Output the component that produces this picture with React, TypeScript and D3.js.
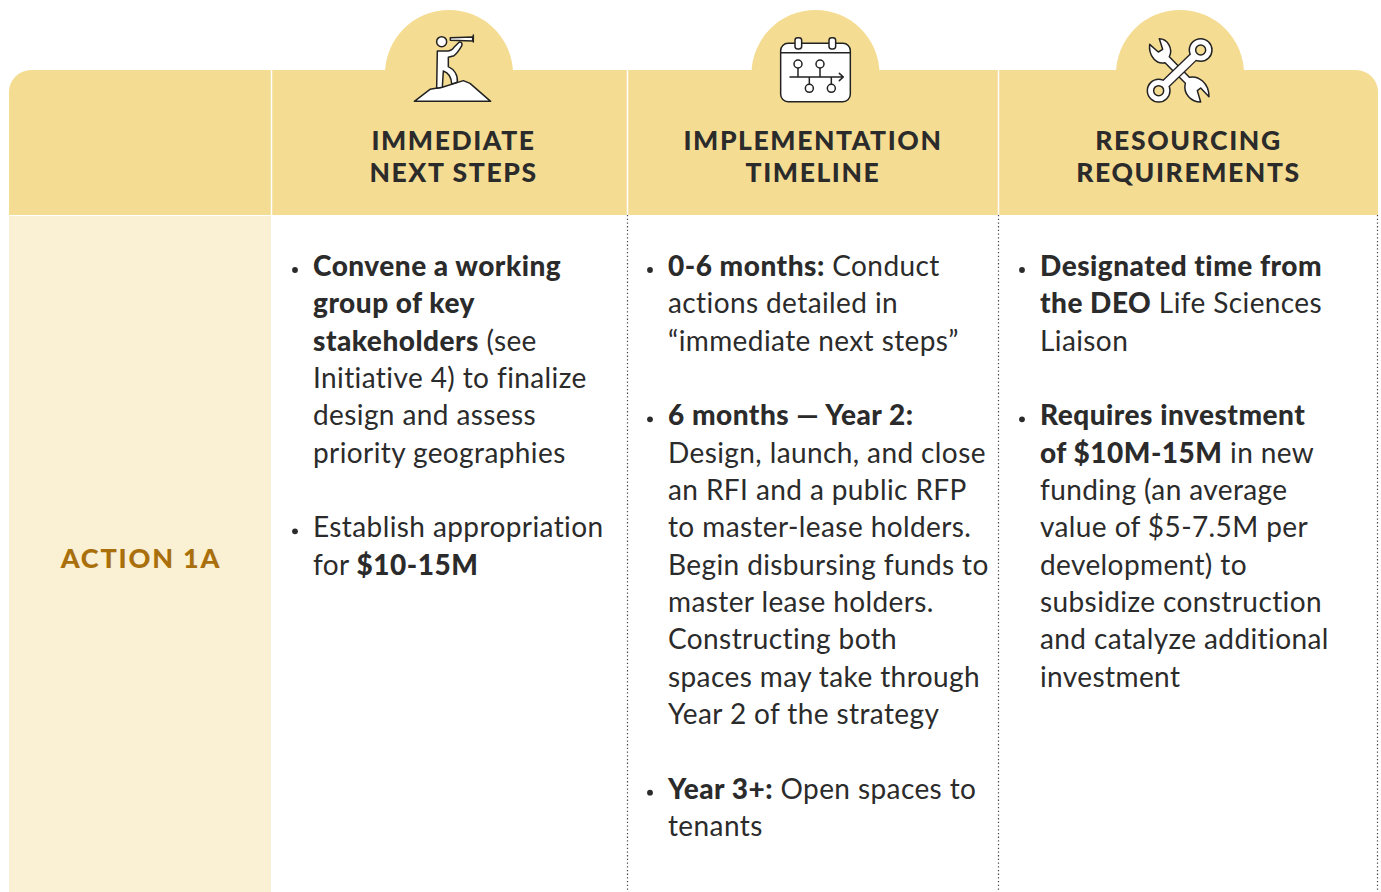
import React from 'react';
import * as d3 from 'd3';

// a line is a list of runs, runs starting with * are bold, [] is a blank line, ">" marks a bullet
const nextSteps = [
  ['>', '*Convene a working'],
  ['*group of key'],
  ['*stakeholders', ' (see'],
  ['Initiative 4) to finalize'],
  ['design and assess'],
  ['priority geographies'],
  [],
  ['>', 'Establish appropriation'],
  ['for ', '*$10-15M'],
];
const timeline = [
  ['>', '*0-6 months:', ' Conduct'],
  ['actions detailed in'],
  ['“immediate next steps”'],
  [],
  ['>', '*6 months — Year 2:'],
  ['Design, launch, and close'],
  ['an RFI and a public RFP'],
  ['to master-lease holders.'],
  ['Begin disbursing funds to'],
  ['master lease holders.'],
  ['Constructing both'],
  ['spaces may take through'],
  ['Year 2 of the strategy'],
  [],
  ['>', '*Year 3+:', ' Open spaces to'],
  ['tenants'],
];
const resourcing = [
  ['>', '*Designated time from'],
  ['*the DEO', ' Life Sciences'],
  ['Liaison'],
  [],
  ['>', '*Requires investment'],
  ['*of $10M-15M', ' in new'],
  ['funding (an average'],
  ['value of $5-7.5M per'],
  ['development) to'],
  ['subsidize construction'],
  ['and catalyze additional'],
  ['investment'],
];
const columns = ['steps', 'timeline', 'resourcing'];
const headings = [
  ['IMMEDIATE', 'NEXT STEPS'],
  ['IMPLEMENTATION', 'TIMELINE'],
  ['RESOURCING', 'REQUIREMENTS'],
];
const bodies = [nextSteps, timeline, resourcing];
const actionLabel = 'ACTION 1A';

const W = 1381;
const H = 892;
const headTop = 70;
const headBottom = 215;
const left = 9;
const right = 1378;
const gold = '#f5dc93';
const pale = '#faf0d3';
const ink = '#2b2b2b';
const font = 'Lato, sans-serif';

const dividerX = d3.scaleOrdinal<string, number>().domain(columns).range([271.5, 627.5, 998.5]);
const textX = d3.scaleOrdinal<string, number>().domain(columns).range([313, 668, 1040]);
const headX = d3.scaleOrdinal<string, number>().domain(columns).range([453.5, 813, 1188.5]);
const bumpX = d3.scaleOrdinal<string, number>().domain(columns).range([449, 815.5, 1180]);
const lineY = d3.scaleLinear().domain([0, 15]).range([276, 836]);

function headerPath() {
  const r = 22;
  const p = d3.path();
  p.moveTo(left, headBottom);
  p.lineTo(left, headTop + r);
  p.arcTo(left, headTop, left + r, headTop, r);
  p.lineTo(right - r, headTop);
  p.arcTo(right, headTop, right, headTop + r, r);
  p.lineTo(right, headBottom);
  p.closePath();
  return p.toString();
}

const bump = d3.arc()({ innerRadius: 0, outerRadius: 64, startAngle: 0, endAngle: Math.PI * 2 }) as string;

const iconStroke = { fill: '#fff', stroke: '#222', strokeWidth: 4.5, strokeLinejoin: 'round' as const, strokeLinecap: 'round' as const };

// icons are traced in 3x zoom coordinates, hence the scale(1/3)
function Lookout() {
  return (
    <g transform="translate(380,0) scale(0.3333)" {...iconStroke}>
      <path d="M103,304 L150,268 L172,264 L187,262 L250,242 L270,250 L332,304 Z" />
      <path d="M172,153 L205,153 C215,152 218,148 222,142 L238,126 C245,125 248,132 245,138 C238,150 230,162 222,167 L205,172 L205,200 C222,208 234,225 232,247 L215,252 C214,232 205,218 190,213 L187,262 L170,265 Z" />
      <circle cx={185} cy={125} r={15} />
      <path d="M211,113 L278,111 L278,123 L211,121 Z" />
      <path d="M280,105 L280,126" fill="none" />
    </g>
  );
}

function Calendar() {
  return (
    <g transform="translate(745,0) scale(0.3333)" {...iconStroke}>
      <rect x={107} y={130} width={209} height={175} rx={22} />
      <path d="M107,158 H316" fill="none" />
      <rect x={150} y={113} width={20} height={34} rx={8} />
      <rect x={252} y={113} width={20} height={34} rx={8} />
      <path d="M135,231 H295 M283,220 L295,231 L283,242 M159,204 V231 M225,204 V231 M193,231 V253 M259,231 V253" fill="none" />
      <circle cx={159} cy={192} r={12} />
      <circle cx={225} cy={192} r={12} />
      <circle cx={193} cy={265} r={12} />
      <circle cx={259} cy={265} r={12} />
    </g>
  );
}

function Tools() {
  return (
    <g transform="translate(1110,0) scale(0.3333)" {...iconStroke}>
      <path d="M148,116 C172,116 190,145 178,170 L238,232 C265,226 297,248 297,290 L272,264 L262,272 L272,306 C245,306 218,282 226,250 L165,188 C140,195 115,168 119,133 L145,156 L158,148 Z" />
      <line x1={272} y1={150} x2={146} y2={272} strokeWidth={30} strokeLinecap="butt" />
      <circle cx={272} cy={150} r={34} />
      <circle cx={146} cy={272} r={34} />
      <line x1={262} y1={160} x2={156} y2={262} stroke="#fff" strokeWidth={22} strokeLinecap="butt" />
      <circle cx={272} cy={150} r={15} fill={gold} />
      <circle cx={146} cy={272} r={15} fill={gold} />
    </g>
  );
}

export default function App() {
  return (
    <svg
      width={W}
      height={H}
      viewBox={`0 0 ${W} ${H}`}
      style={{ position: 'absolute', left: 0, top: 0, display: 'block', background: '#fff', fontFamily: font }}
    >
      {columns.map((c) => (
        <path key={c} d={bump} transform={`translate(${bumpX(c)},74)`} fill={gold} />
      ))}
      <path d={headerPath()} fill={gold} />
      <rect x={left} y={headBottom + 1} width={262} height={H - headBottom} fill={pale} />

      {columns.map((c) => (
        <g key={c}>
          <line x1={dividerX(c)} x2={dividerX(c)} y1={headTop} y2={headBottom} stroke="#fff" strokeWidth={1.5} />
          {c !== 'steps' && (
            <line x1={dividerX(c)} x2={dividerX(c)} y1={headBottom} y2={H} stroke="#444" strokeWidth={1.2} strokeDasharray="1.3 2.4" />
          )}
        </g>
      ))}
      <line x1={right - 0.5} x2={right - 0.5} y1={headBottom} y2={H} stroke="#444" strokeWidth={1.2} strokeDasharray="1.3 2.4" />

      <Lookout />
      <Calendar />
      <Tools />

      {columns.map((c, i) =>
        headings[i].map((t, j) => (
          <text key={t} x={headX(c)} y={150 + j * 32} textAnchor="middle" fontSize={26.5} fontWeight={900} letterSpacing={1.6} fill={ink}>
            {t}
          </text>
        ))
      )}

      <text x={141} y={568} textAnchor="middle" fontSize={27} fontWeight={900} letterSpacing={1.8} fill="#a96f0b">
        {actionLabel}
      </text>

      {columns.map((c, i) =>
        bodies[i].map((line, n) => {
          const bullet = line[0] === '>';
          const runs = bullet ? line.slice(1) : line;
          return (
            <g key={n}>
              {bullet && <circle cx={textX(c)! - 18} cy={lineY(n) - 6} r={2.9} fill={ink} />}
              <text x={textX(c)} y={lineY(n)} fontSize={28} fill={ink} xmlSpace="preserve">
                {runs.map((r, k) => {
                  const bold = r.startsWith('*');
                  return (
                    <tspan key={k} fontWeight={bold ? 900 : 400} letterSpacing={bold ? 0.5 : 0.4}>
                      {bold ? r.slice(1) : r}
                    </tspan>
                  );
                })}
              </text>
            </g>
          );
        })
      )}
    </svg>
  );
}
